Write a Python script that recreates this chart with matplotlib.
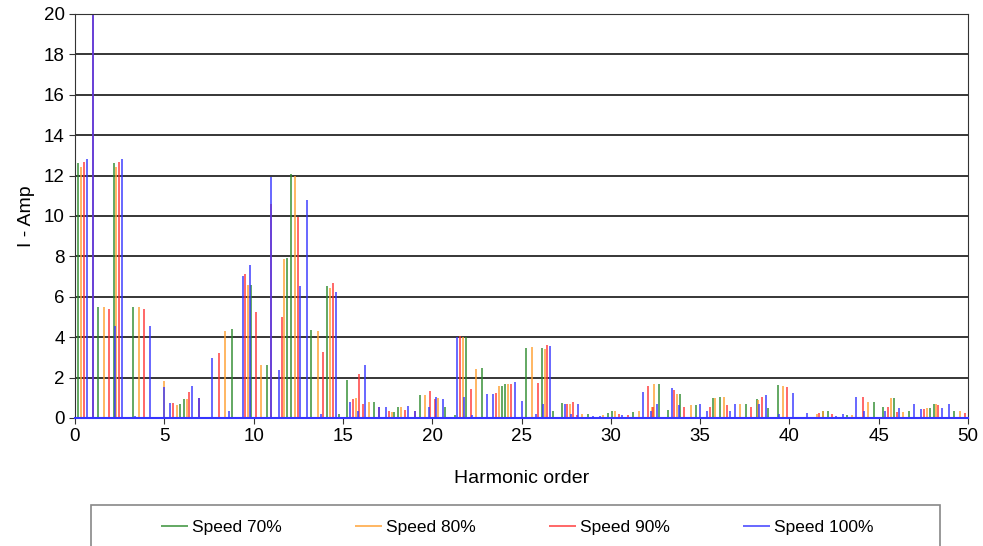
import matplotlib.pyplot as plt
from matplotlib.patches import Rectangle

plt.rcParams['font.family'] = ['Liberation Sans', 'DejaVu Sans']

series_names = ['Speed 70%', 'Speed 80%', 'Speed 90%', 'Speed 100%']
series_colors = ['#2e8b2e', '#ff9f2f', '#ff3535', '#3535ff']

# harmonic order / amplitude pairs
h70 = [0.15, 1.30, 2.16, 3.26, 5.88, 6.10, 8.77, 9.87, 10.75, 11.87, 12.10, 13.24,
       14.10, 14.79, 15.22, 16.76, 17.85, 18.09, 19.29, 20.74, 21.28, 21.91, 22.79,
       23.90, 24.10, 25.26, 26.12, 26.77, 27.24, 28.75, 29.85, 30.09, 31.22, 32.72,
       33.21, 33.87, 34.75, 35.75, 36.13, 37.58, 38.17, 38.81, 39.34, 41.87, 42.15,
       43.23, 44.76, 45.22, 45.84, 46.72, 47.87, 48.08, 49.20]
a70 = [12.6, 5.5, 12.6, 5.5, 0.69, 0.93, 4.4, 6.6, 2.6, 7.9, 12.1, 4.35,
       6.55, 0.2, 1.9, 0.8, 0.28, 0.53, 1.14, 0.53, 0.17, 4.0, 2.46,
       1.59, 1.69, 3.48, 3.46, 0.34, 0.76, 0.2, 0.25, 0.37, 0.32, 1.68,
       0.42, 1.19, 0.63, 0.97, 1.02, 0.68, 0.93, 0.51, 1.61, 0.34, 0.34,
       0.17, 0.81, 0.54, 0.98, 0.34, 0.51, 0.68, 0.34]

h80 = [0.33, 1.61, 2.31, 3.57, 5.00, 5.70, 6.25, 8.40, 9.68, 10.41, 11.70, 12.32,
       13.58, 14.27, 15.71, 16.46, 17.75, 18.27, 19.59, 20.35, 21.73, 22.43, 23.74,
       24.26, 25.56, 26.31, 27.70, 28.41, 29.57, 30.24, 31.57, 32.33, 32.43, 33.68,
       34.47, 35.85, 36.32, 37.26, 38.25, 39.62, 41.53, 41.90, 43.50, 44.38, 45.69,
       46.38, 47.69, 48.21, 49.55]
a80 = [12.45, 5.5, 12.45, 5.5, 1.84, 0.66, 0.93, 4.3, 6.56, 2.62, 7.87, 11.97,
       4.3, 6.46, 0.98, 0.8, 0.28, 0.53, 1.14, 0.99, 4.0, 2.41, 1.59,
       1.69, 3.5, 3.42, 0.68, 0.2, 0.17, 0.37, 0.37, 0.54, 1.66, 1.19,
       0.63, 0.98, 1.02, 0.68, 0.88, 1.56, 0.2, 0.34, 0.17, 0.81, 0.98,
       0.3, 0.51, 0.68, 0.34]

h90 = [0.49, 1.00, 1.90, 2.45, 3.88, 5.51, 6.40, 6.94, 8.06, 9.53, 10.11, 10.99,
       11.59, 12.47, 13.86, 14.46, 15.58, 15.88, 16.10, 17.00, 17.60, 18.46, 19.01,
       19.87, 20.17, 21.56, 22.16, 23.55, 24.42, 25.91, 26.42, 27.57, 27.89, 28.10,
       30.46, 30.97, 32.11, 32.36, 33.53, 34.11, 35.57, 36.51, 37.87, 38.49, 39.89,
       41.68, 42.39, 44.10, 45.52, 46.00, 47.52, 48.34, 49.85]
a90 = [12.66, 25.0, 5.4, 12.66, 5.4, 0.72, 1.3, 0.97, 3.23, 7.13, 5.23, 10.6,
       5.0, 9.95, 3.28, 6.66, 0.93, 2.2, 0.7, 0.52, 0.36, 0.4, 0.36,
       1.34, 0.93, 4.08, 1.44, 1.22, 1.69, 1.75, 3.63, 0.71, 0.8, 0.14,
       0.2, 0.13, 1.58, 0.54, 1.39, 0.56, 0.54, 0.63, 0.54, 1.05, 1.52,
       0.27, 0.2, 1.05, 0.54, 0.3, 0.46, 0.63, 0.25]

h100 = [0.66, 1.00, 2.22, 2.62, 3.35, 4.18, 5.00, 5.33, 6.56, 6.94, 7.69, 8.60,
        9.40, 9.79, 10.99, 11.40, 12.58, 13.00, 13.80, 14.59, 15.41, 15.82, 16.22,
        17.00, 17.43, 18.62, 19.01, 19.83, 20.22, 20.63, 21.41, 21.80, 22.21, 23.07,
        23.40, 24.61, 25.00, 25.80, 26.18, 26.59, 27.43, 27.76, 28.17, 29.01, 29.38,
        30.60, 31.82, 32.23, 32.57, 33.40, 33.81, 35.00, 35.38, 36.70, 36.98, 38.30,
        38.68, 39.40, 40.19, 40.99, 42.60, 42.99, 43.73, 44.20, 45.37, 46.16, 47.00,
        47.37, 48.53, 48.96]
a100 = [12.82, 25.0, 4.54, 12.82, 0.1, 4.54, 1.51, 0.72, 1.57, 0.97, 2.98, 0.36,
        7.05, 7.55, 11.92, 2.38, 6.54, 10.8, 0.2, 6.26, 0.8, 0.36, 2.62,
        0.52, 0.53, 0.6, 0.36, 0.56, 1.06, 0.94, 4.0, 1.02, 0.17, 1.19,
        1.19, 1.8, 0.83, 0.2, 0.68, 3.56, 0.71, 0.2, 0.68, 0.1, 0.1,
        0.17, 1.3, 0.34, 0.68, 1.49, 0.63, 0.71, 0.37, 0.37, 0.68, 0.68,
        1.14, 0.2, 1.22, 0.24, 0.12, 0.2, 1.05, 0.37, 0.37, 0.51, 0.68,
        0.46, 0.51, 0.68]

harmonics = [h70, h80, h90, h100]
amps = [a70, a80, a90, a100]

fig = plt.figure(figsize=(9.83, 5.46), dpi=100)
ax = fig.add_axes([75 / 983, 1 - 418 / 546, 893 / 983, 404 / 546])

for y in range(2, 21, 2):
    ax.axhline(y, color='black', lw=1.1, zorder=0)

for h, a, c, name in zip(harmonics, amps, series_colors, series_names):
    ax.vlines(h, 0, a, colors=c, lw=1.4, alpha=0.75, label=name, zorder=2)

ax.set_xlim(0, 50)
ax.set_ylim(0, 20)
ax.set_xticks(range(0, 51, 5))
ax.set_yticks(range(0, 21, 2))
ax.tick_params(labelsize=13.5, direction='out', length=4, color='#333333')
for side in ['left', 'right', 'top']:
    ax.spines[side].set_color('#333333')
ax.spines['bottom'].set_color('#3535ff')
ax.spines['bottom'].set_linewidth(1.5)
ax.set_xlabel('Harmonic order', fontsize=14, labelpad=18)
ax.set_ylabel('I - Amp', fontsize=14, labelpad=6)

handles, labels = ax.get_legend_handles_labels()
fig.legend(handles, labels, loc='center', bbox_to_anchor=(517 / 983, 1 - 527 / 546),
           ncol=4, frameon=False, fontsize=12.5, handlelength=1.6,
           handletextpad=0.2, columnspacing=4.2)
fig.patches.append(Rectangle((91 / 983, -0.02), (940 - 91) / 983, 41 / 546 + 0.02,
                             transform=fig.transFigure, fill=False,
                             edgecolor='#888888', lw=1.2))

fig.savefig('out.png', dpi=100)
